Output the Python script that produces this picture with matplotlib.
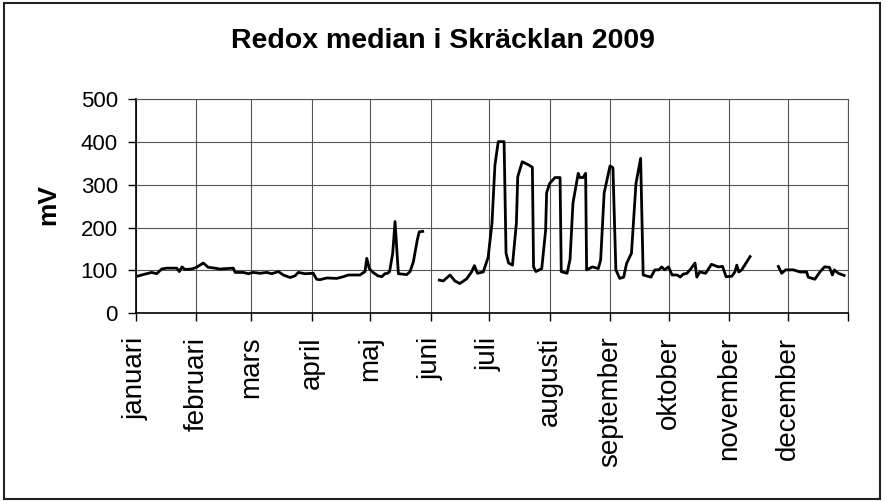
import numpy as np
import matplotlib.pyplot as plt
from matplotlib.patches import Rectangle

plt.rcParams['font.family'] = ['Liberation Sans', 'DejaVu Sans']

# day of year (0 = 1 jan) and median redox (mV); nan = gap in data
days = [0, 2.9, 6.3, 8, 10.6, 13.2, 15.7, 20.9, 22.2, 23.6, 25, 28.5, 31, 34.5, 37, 40.5,
        43, 49.9, 50.8, 55, 57.6, 60, 63.6, 67, 69.6, 73, 75.5, 79, 81.5, 83.2, 86.6, 90.9,
        92.6, 94.3, 97.8, 102.9, 106.3, 108.8, 114.8, 117.4, 118.3, 119.6, 121.5, 124, 126,
        127.6, 129, 130, 131.6, 132.8, 134.5, 138.8, 140.5, 142.2, 144.2, 145.2, 147, 147.5,
        155.5, 157.5, 161, 163.5, 166, 169.5, 172, 173.5, 175, 178, 180.5, 182.5, 184, 185.7,
        188.7, 189.7, 191, 193, 195, 195.7, 198, 199.7, 201.5, 203.2, 203.8, 205, 208, 210,
        210.5, 212, 214.8, 217.4, 218, 221, 222.5, 224, 226.7, 227.5, 229.2, 230.5, 231, 234,
        237, 238.2, 240, 243, 244.5, 246, 248, 250, 251.5, 254, 256.3, 258.7, 260, 264, 266,
        268, 269.5, 271, 273, 274.8, 277.5, 279, 280.5, 282.5, 284.5, 286.6, 287.5, 289, 292,
        295, 298.5, 300.7, 302.5, 305.4, 307, 308, 309, 310.5, 314.8, 315.5,
        329.3, 331, 333, 337, 340.4, 343.8, 344.6, 348, 350.6, 353, 355.5, 357, 358, 360, 363]
redox = [85, 89, 93, 95, 92, 103, 105, 105, 97, 108, 102, 103, 107, 117, 107, 105,
         103, 105, 95, 95, 92, 95, 93, 95, 92, 97, 89, 83, 87, 95, 92, 93,
         79, 78, 82, 81, 85, 89, 89, 97, 128, 104, 95, 87, 85,
         92, 93, 97, 140, 214, 92, 90, 97, 120, 171, 190, 191, np.nan,
         77, 75, 89, 75, 69, 80, 96, 111, 93, 96, 130, 210, 346, 401,
         401, 140, 117, 112, 210, 319, 354, 350, 346, 341, 108, 97, 104, 194,
         281, 303, 317, 317, 97, 93, 125, 257, 327, 317, 317, 327, 101, 108,
         104, 124, 281, 344, 340, 101, 81, 84, 116, 140, 303, 362, 89, 84, 101,
         101, 108, 101, 108, 89, 89, 84, 91, 93, 104, 117, 84, 96, 93,
         114, 108, 109, 85, 86, 96, 112, 96, 101, 132, np.nan,
         109, 93, 101, 101, 96, 96, 84, 79, 96, 108, 107, 89, 101, 93, 88]

month_starts = [0, 31, 59, 90, 120, 151, 181, 212, 243, 273, 304, 334, 365]
month_names = ['januari', 'februari', 'mars', 'april', 'maj', 'juni', 'juli',
               'augusti', 'september', 'oktober', 'november', 'december', '']

fig = plt.figure(figsize=(8.86, 5.01), dpi=100)
ax = fig.add_axes([0.1535, 0.3752, 0.8036, 0.4265])

ax.plot(days, redox, color='black', lw=2, zorder=3)

ax.set_xlim(0, 365)
ax.set_ylim(0, 500)
ax.set_xticks(month_starts)
ax.set_xticklabels(month_names, rotation=90, fontsize=20, va='top', ha='center')
ax.set_yticks([0, 100, 200, 300, 400, 500])
ax.tick_params(axis='y', labelsize=16, length=6, width=1, pad=7, direction='out')
ax.tick_params(axis='x', length=6, width=1, pad=11, direction='out')

ax.grid(True, color='#555555', lw=0.8)
ax.set_axisbelow(True)
for s in ['top', 'right']:
    ax.spines[s].set_color('#555555')
    ax.spines[s].set_linewidth(0.8)
for s in ['left', 'bottom']:
    ax.spines[s].set_linewidth(1.2)

fig.text(0.5, 0.918, 'Redox median i Skräcklan 2009', ha='center', va='center',
         fontsize=20.5, fontweight='bold')
fig.text(0.055, 0.591, 'mV', rotation=90, ha='center', va='center',
         fontsize=19, fontweight='bold')

fig.patches.append(Rectangle((0.005, 0.004), 0.988, 0.99, transform=fig.transFigure,
                             fill=False, edgecolor='#222222', lw=1.5))

fig.savefig('out.png', dpi=100)
